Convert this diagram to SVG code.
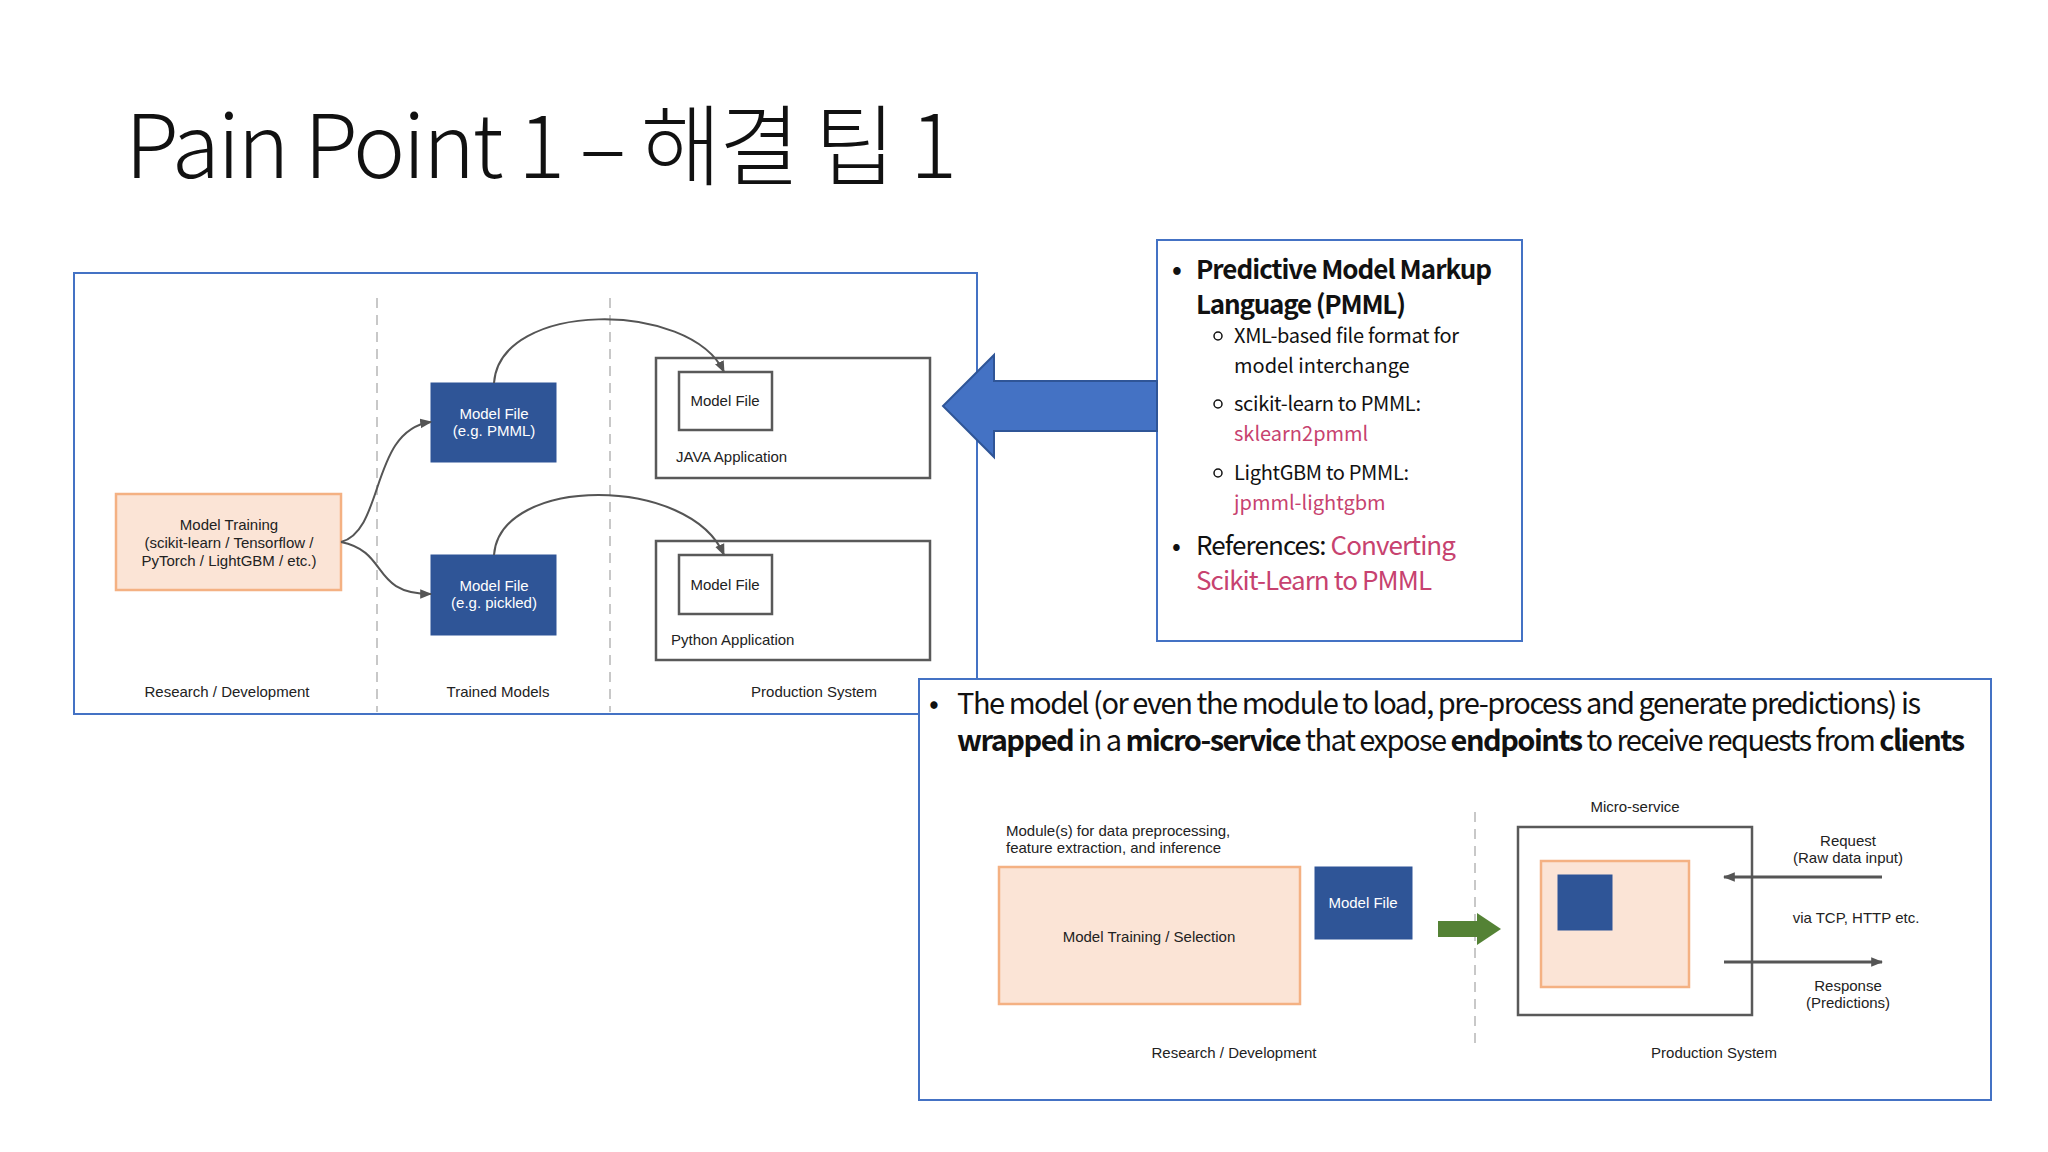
<svg xmlns="http://www.w3.org/2000/svg" width="2048" height="1152" viewBox="0 0 2048 1152">
<defs>
<style>
.s{font-family:"Liberation Sans",Arial,sans-serif;font-size:15px;fill:#222}
.w{fill:#fff}
.n{font-family:"Noto Sans CJK KR","Noto Sans",sans-serif;fill:#111}
.pk{fill:#c7426f}
.frame{fill:#fff;stroke:#4472c4;stroke-width:2}
.dash{stroke:#c8c8c8;stroke-width:2;stroke-dasharray:10 7;fill:none}
.peach{fill:#fbe4d6;stroke:#f4b183;stroke-width:2.5}
.navy{fill:#2f5597;stroke:#2f5597}
.box{fill:#fff;stroke:#595959;stroke-width:2.5}
.c{fill:none;stroke:#555;stroke-width:2;marker-end:url(#a)}
</style>
<marker id="a" viewBox="0 0 10 10" refX="9" refY="5" markerWidth="6" markerHeight="6" orient="auto"><path d="M0,1 L10,5 L0,9 z" fill="#555"/></marker>
<marker id="b" viewBox="0 0 10 10" refX="9" refY="5" markerWidth="4" markerHeight="4" orient="auto"><path d="M0,1 L10,5 L0,9 z" fill="#555"/></marker>
</defs>
<rect width="2048" height="1152" fill="#fff"/>
<text class="n" x="125" y="178" font-size="88" font-weight="300" textLength="832">Pain Point 1 – 해결 팁 1</text>

<g id="left-frame">
<rect class="frame" x="74" y="273" width="903" height="441"/>
<line class="dash" x1="377" y1="298" x2="377" y2="712"/>
<line class="dash" x1="610" y1="298" x2="610" y2="712"/>
<text class="s" x="227" y="697" text-anchor="middle" font-size="18">Research / Development</text>
<text class="s" x="498" y="697" text-anchor="middle" font-size="18">Trained Models</text>
<text class="s" x="814" y="697" text-anchor="middle" font-size="18">Production System</text>
</g>
<g id="pmml-notes">
<rect class="frame" x="1157" y="240" width="365" height="401"/>
<text class="n" font-size="26" font-weight="bold"><tspan x="1172" y="279">•</tspan></text>
<text class="n" font-size="26" font-weight="bold" x="1196" y="279" textLength="296">Predictive Model Markup</text>
<text class="n" font-size="26" font-weight="bold" x="1196" y="314" textLength="210">Language (PMML)</text>
<g class="n" font-size="20">
<circle cx="1218" cy="336" r="4" fill="none" stroke="#111" stroke-width="1.5"/>
<text x="1234" y="343" textLength="225">XML-based file format for</text>
<text x="1234" y="373">model interchange</text>
<circle cx="1218" cy="404" r="4" fill="none" stroke="#111" stroke-width="1.5"/>
<text x="1234" y="411" textLength="187">scikit-learn to PMML:</text>
<text x="1234" y="441" class="pk">sklearn2pmml</text>
<circle cx="1218" cy="473" r="4" fill="none" stroke="#111" stroke-width="1.5"/>
<text x="1234" y="480" textLength="175">LightGBM to PMML:</text>
<text x="1234" y="510" class="pk">jpmml-lightgbm</text>
</g>
<text class="n" font-size="26"><tspan x="1172" y="555">•</tspan></text>
<text class="n" font-size="26" x="1196" y="555" textLength="260">References: <tspan class="pk">Converting</tspan></text>
<text class="n pk" font-size="26" x="1196" y="590" textLength="236">Scikit-Learn to PMML</text>
</g>
<g id="microservice-panel">
<rect class="frame" x="919" y="679" width="1072" height="421"/>
<text class="n" font-size="29" x="929" y="714">•</text>
<text class="n" font-size="29" x="957" y="714" textLength="964">The model (or even the module to load, pre-process and generate predictions) is</text>
<text class="n" font-size="29" x="957" y="751" textLength="1008"><tspan font-weight="bold">wrapped</tspan> in a <tspan font-weight="bold">micro-service</tspan> that expose <tspan font-weight="bold">endpoints</tspan> to receive requests from <tspan font-weight="bold">clients</tspan></text>
<line class="dash" x1="1475" y1="812" x2="1475" y2="1045"/>
<text class="s" x="1006" y="836" font-size="14">Module(s) for data preprocessing,<tspan x="1006" dy="17">feature extraction, and inference</tspan></text>
<text class="s" x="1635" y="812" text-anchor="middle" font-size="14">Micro-service</text>
<text class="s" x="1234" y="1058" text-anchor="middle" font-size="17">Research / Development</text>
<text class="s" x="1714" y="1058" text-anchor="middle" font-size="17">Production System</text>
<text class="s" x="1848" y="846" text-anchor="middle" font-size="14">Request<tspan x="1848" dy="17">(Raw data input)</tspan></text>
<text class="s" x="1856" y="923" text-anchor="middle" font-size="14">via TCP, HTTP etc.</text>
<text class="s" x="1848" y="991" text-anchor="middle" font-size="14">Response<tspan x="1848" dy="17">(Predictions)</tspan></text>
</g>
<g id="model-training">
<rect class="peach" x="116" y="494" width="225" height="96"/>
<text class="s" text-anchor="middle" x="229" y="530">Model Training<tspan x="229" dy="18">(scikit-learn / Tensorflow /</tspan><tspan x="229" dy="18">PyTorch / LightGBM / etc.)</tspan></text>
</g>
<g id="model-file-pmml">
<rect class="navy" x="431" y="383" width="125" height="79"/>
<text class="s w" text-anchor="middle" x="494" y="419">Model File<tspan x="494" dy="17">(e.g. PMML)</tspan></text>
</g>
<g id="model-file-pickled">
<rect class="navy" x="431" y="555" width="125" height="80"/>
<text class="s w" text-anchor="middle" x="494" y="591">Model File<tspan x="494" dy="17">(e.g. pickled)</tspan></text>
</g>
<g id="java-app">
<rect class="box" x="656" y="358" width="274" height="120"/>
<rect class="box" x="679" y="372" width="93" height="58" stroke-width="2"/>
<text class="s" x="725" y="406" text-anchor="middle">Model File</text>
<text class="s" x="676" y="462">JAVA Application</text>
</g>
<g id="python-app">
<rect class="box" x="656" y="541" width="274" height="119"/>
<rect class="box" x="679" y="555" width="93" height="59" stroke-width="2"/>
<text class="s" x="725" y="590" text-anchor="middle">Model File</text>
<text class="s" x="671" y="645">Python Application</text>
</g>
<g id="training-selection">
<rect class="peach" x="999" y="867" width="301" height="137"/>
<text class="s" x="1149" y="942" text-anchor="middle" font-size="14">Model Training / Selection</text>
</g>
<g id="model-file-2">
<rect class="navy" x="1315" y="867" width="97" height="72"/>
<text class="s w" x="1363" y="908" text-anchor="middle" font-size="14">Model File</text>
</g>
<g id="micro-service">
<rect class="box" x="1518" y="827" width="234" height="188"/>
<rect class="peach" x="1541" y="861" width="148" height="126"/>
<rect class="navy" x="1558" y="875" width="54" height="55"/>
</g>
<g id="connectors">
<path class="c" d="M341,542 C385,530 370,430 431,422"/>
<path class="c" d="M341,542 C390,552 370,594 431,594"/>
<path class="c" d="M494,383 C500,300 690,300 724,372"/>
<path class="c" d="M494,555 C500,475 690,475 724,555"/>
<path d="M1157,381 L994,381 L994,355 L943,406 L994,457 L994,431 L1157,431 z" fill="#4472c4" stroke="#2f5597" stroke-width="2"/>
<path d="M1438,921 L1477,921 L1477,913 L1501,929 L1477,945 L1477,937 L1438,937 z" fill="#548235"/>
<line x1="1882" y1="877" x2="1724" y2="877" stroke="#555" stroke-width="3" marker-end="url(#b)"/>
<line x1="1724" y1="962" x2="1882" y2="962" stroke="#555" stroke-width="3" marker-end="url(#b)"/>
</g>
</svg>
